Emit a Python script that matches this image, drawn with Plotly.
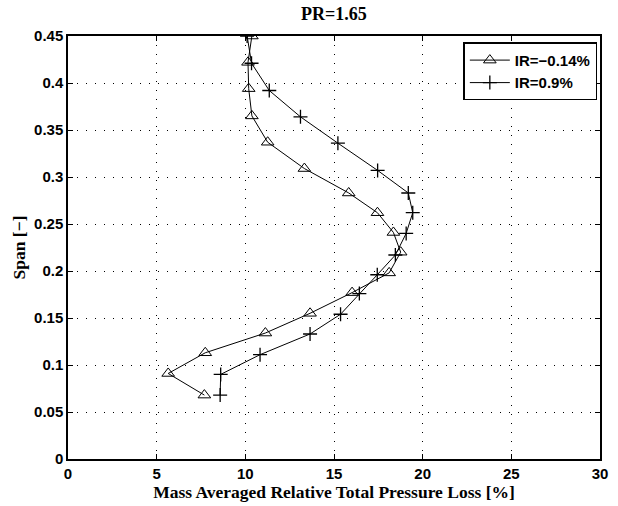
import plotly.graph_objects as go

# IR = -0.14 % (triangles)
span_a = [0.45, 0.422, 0.394, 0.365, 0.337, 0.309, 0.283, 0.262, 0.241, 0.220,
          0.198, 0.177, 0.155, 0.134, 0.113, 0.091, 0.068]
loss_a = [10.37, 10.15, 10.19, 10.37, 11.26, 13.33, 15.83, 17.45, 18.35, 18.76,
          18.11, 16.02, 13.65, 11.13, 7.74, 5.65, 7.69]

# IR = 0.9 % (plus)
span_b = [0.45, 0.421, 0.392, 0.364, 0.336, 0.307, 0.283, 0.262, 0.240, 0.217,
          0.196, 0.176, 0.154, 0.133, 0.111, 0.090, 0.068]
loss_b = [10.1, 10.35, 11.35, 13.11, 15.22, 17.46, 19.19, 19.44, 19.07, 18.46,
          17.44, 16.43, 15.37, 13.65, 10.83, 8.61, 8.58]

x_ticks = [0, 5, 10, 15, 20, 25, 30]
y_ticks = [0, 0.05, 0.1, 0.15, 0.2, 0.25, 0.3, 0.35, 0.4, 0.45]
y_ticklabels = ["0", "0.05", "0.1", "0.15", "0.2", "0.25", "0.3", "0.35", "0.4", "0.45"]

fig = go.Figure()
fig.add_trace(go.Scatter(
    x=loss_a, y=span_a, mode="lines+markers", name="IR=\u22120.14%",
    line=dict(color="black", width=1),
    marker=dict(symbol="triangle-up-open", size=11, color="black",
                line=dict(color="black", width=1)),
))
fig.add_trace(go.Scatter(
    x=loss_b, y=span_b, mode="lines+markers", name="IR=0.9%",
    line=dict(color="black", width=1),
    marker=dict(symbol="cross-thin-open", size=10, color="black",
                line=dict(color="black", width=1.3)),
))

tickfont = dict(family="Liberation Sans, Arial, sans-serif", size=15, color="black",
                weight="bold")
titlefont = dict(family="Liberation Serif, Times New Roman, serif", size=17.5, color="black")

axis_common = dict(
    showline=True, linecolor="black", linewidth=1.5, mirror="allticks",
    ticks="inside", ticklen=5, tickwidth=1, tickcolor="black",
    showgrid=True, gridcolor="black", gridwidth=1, griddash="1px,8px",
    zeroline=False, tickfont=tickfont,
)

fig.update_xaxes(
    range=[0, 30], tickvals=x_ticks, ticktext=[str(v) for v in x_ticks],
    title=dict(text="<b>Mass Averaged Relative Total Pressure Loss [%]</b>",
               font=titlefont, standoff=2),
    **axis_common,
)
fig.update_yaxes(
    range=[0, 0.45], tickvals=y_ticks, ticktext=y_ticklabels,
    title=dict(text="<b>Span [\u2212]</b>", font=titlefont, standoff=4),
    **axis_common,
)

fig.update_layout(
    width=618, height=506,
    margin=dict(l=68, r=10, t=36, b=44),
    plot_bgcolor="white", paper_bgcolor="white",
    title=dict(text="<b>PR=1.65</b>", xref="paper", x=0.5, xanchor="center",
               y=0.972, yanchor="middle",
               font=dict(family="Liberation Serif, Times New Roman, serif", size=18, color="black")),
    legend=dict(
        x=0.995, y=0.985, xanchor="right", yanchor="top",
        bgcolor="white", bordercolor="black", borderwidth=1.5,
        font=dict(family="Liberation Sans, Arial, sans-serif", size=15, color="black",
                  weight="bold"),
        tracegroupgap=0, itemwidth=40,
    ),
    showlegend=True,
)

fig.write_html("out.html")
